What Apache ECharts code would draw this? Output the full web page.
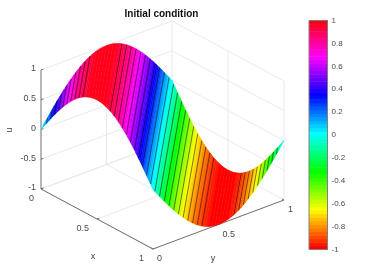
<!DOCTYPE html>
<html><head><meta charset="utf-8">
<style>html,body{margin:0;padding:0;background:#fff}#c{width:374px;height:280px;filter:blur(0.35px)}</style>
<script src="https://cdn.jsdelivr.net/npm/echarts@6/dist/echarts.min.js"></script>
</head><body><div id="c"></div>
<script>
// Surface height read along s = x + y, sampled every 0.025 from s = 0 to s = 2
const sStep = 0.025;
const heightAlongS = [
 0,.079,.156,.233,.309,.383,.454,.523,.588,.649,.707,.760,.809,.853,.891,.924,.951,.972,.988,.997,
 1,.997,.988,.972,.951,.924,.891,.853,.809,.760,.707,.649,.588,.523,.454,.383,.309,.233,.156,.079,
 0,-.079,-.156,-.233,-.309,-.383,-.454,-.523,-.588,-.649,-.707,-.760,-.809,-.853,-.891,-.924,-.951,-.972,-.988,-.997,
 -1,-.997,-.988,-.972,-.951,-.924,-.891,-.853,-.809,-.760,-.707,-.649,-.588,-.523,-.454,-.383,-.309,-.233,-.156,-.079,0];
// Dark lines crossing the surface, as values of s
const darkLinesS = [.05,.086,.122,.158,.194,.23,.266,.302,.338,.374,
 .618,.654,.69,.726,.762,.798,.834,.87,.906,.942,.978,1.014,1.05,1.086,1.122,1.158,1.194,1.23,1.266,1.302,1.338,1.374,
 1.618,1.654,1.69,1.726,1.762,1.798,1.834,1.87,1.906,1.942];
const xTicks = [0,0.5,1];
const yTicks = [0,0.5,1];
const zTicks = [-1,-0.5,0,0.5,1];
const colorCount = 64;
const titleText = 'Initial condition';

// Orthographic view of the unit box
const view = {ox:41, oy:189, xx:112, xy:60, yx:131, yy:-49, zy:-59.5};
const project = (x,y,z) => [view.ox+view.xx*x+view.yx*y, view.oy+view.xy*x+view.yy*y+view.zy*(z+1)];

function hsvColor(k){
  const h=k/colorCount*6, i=Math.floor(h), f=h-i, q=Math.round(255*(1-f)), t=Math.round(255*f);
  const c=[[255,t,0],[q,255,0],[0,255,t],[0,q,255],[t,0,255],[255,0,q]][i%6];
  return 'rgb('+c.join(',')+')';
}
const bandOf = u => Math.min(colorCount-1, Math.max(0, Math.floor((u+1)/2*colorCount)));
function heightAt(s){
  const f=s/sStep, i=Math.min(heightAlongS.length-2,Math.floor(f));
  return heightAlongS[i]+(heightAlongS[i+1]-heightAlongS[i])*(f-i);
}
// end points of the line x+y=s in the unit square
const sEnds = s => s<=1 ? [[s,0],[0,s]] : [[1,s-1],[s-1,1]];

// Strips of constant colour
const strips=[];
for(let i=0;i<heightAlongS.length-1;i++){
  const s0=i*sStep,s1=(i+1)*sStep,u0=heightAlongS[i],u1=heightAlongS[i+1];
  const cuts=[0,1];
  for(let k=0;k<=colorCount;k++){
    const lv=-1+2*k/colorCount;
    if((lv-u0)*(lv-u1)<0) cuts.push((lv-u0)/(u1-u0));
  }
  cuts.sort((a,b)=>a-b);
  for(let j=0;j<cuts.length-1;j++){
    const a=cuts[j],b=cuts[j+1];
    const ua=u0+(u1-u0)*a,ub=u0+(u1-u0)*b;
    strips.push([s0+(s1-s0)*a,s0+(s1-s0)*b,ua,ub,bandOf((ua+ub)/2)]);
  }
}
// Box lines: [x0,y0,z0,x1,y1,z1,kind]  kind 0 = light grid, 1 = axis
const seg=[];
zTicks.forEach(z=>{seg.push([0,0,z,0,1,z,0]);seg.push([0,1,z,1,1,z,0]);});
yTicks.forEach(y=>{if(y>0){seg.push([0,y,-1,0,y,1,0]);} if(y<1) seg.push([0,y,-1,1,y,-1,0]);});
xTicks.forEach(x=>{if(x>0){seg.push([x,1,-1,x,1,1,0]);} if(x<1) seg.push([x,0,-1,x,1,-1,0]);});
seg.push([0,0,-1,0,0,1,1],[0,0,-1,1,0,-1,1],[1,0,-1,1,1,-1,1]);
zTicks.forEach(z=>seg.push([0,0,z,0,0.018,z,1]));
xTicks.forEach(x=>seg.push([x,0,-1,x,0.018,-1,1]));
yTicks.forEach(y=>seg.push([1,y,-1,0.982,y,-1,1]));

// Text: [string, px, py, align, size, colour, bold, rotate]
const fmt=v=>String(v);
const labels=[];
zTicks.forEach(z=>{const p=project(0,0,z);labels.push([fmt(z),p[0]-5,p[1]-1,'right',9,'#4a4a4a',0,0]);});
xTicks.forEach(x=>{const p=project(x,0,-1);labels.push([fmt(x),p[0]-7-x*2,p[1]+9.5,'right',9,'#4a4a4a',0,0]);});
yTicks.forEach(y=>{const p=project(1,y,-1);labels.push([fmt(y),p[0]+4,p[1]+10,'left',9,'#4a4a4a',0,0]);});
labels.push(['x',93,257,'center',9,'#404040',0,0],['y',213,259,'center',9,'#404040',0,0],
            ['u',10,130,'center',9,'#404040',0,Math.PI/2],[titleText,161.5,14,'center',10,'#111',1,0]);

const chart=echarts.init(document.getElementById('c'),null,{renderer:'canvas'});
chart.setOption({
  animation:false,backgroundColor:'#fff',
  grid:[{left:0,top:0,width:374,height:280,show:false},
        {left:309,top:20.5,width:18.5,height:229,show:true,backgroundColor:'transparent',borderColor:'#808080',borderWidth:1,z:5}],
  xAxis:[{gridIndex:0,type:'value',min:0,max:374,show:false},
         {gridIndex:1,type:'value',min:0,max:1,show:false}],
  yAxis:[{gridIndex:0,type:'value',min:0,max:280,inverse:true,show:false},
         {gridIndex:1,type:'value',min:-1,max:1,interval:0.2,position:'right',
          axisLine:{show:true,onZero:false,lineStyle:{color:'#808080',width:1}},
          axisTick:{show:true,inside:true,length:2,lineStyle:{color:'#606060'}},
          splitLine:{show:false},
          axisLabel:{fontSize:8,color:'#4a4a4a',margin:4,fontFamily:'Liberation Sans',padding:[2,0,0,0],
            formatter:v=>String(Math.round(v*10)/10)}}],
  series:[
   {type:'custom',xAxisIndex:0,yAxisIndex:0,silent:true,z:1,data:seg,encode:{x:0,y:1},
    renderItem:(p,api)=>{
      const a=api.coord(project(api.value(0),api.value(1),api.value(2)));
      const b=api.coord(project(api.value(3),api.value(4),api.value(5)));
      const axis=api.value(6)===1;
      return {type:'line',shape:{x1:a[0],y1:a[1],x2:b[0],y2:b[1]},
        style:{stroke:axis?'#6e6e6e':'#e4e4e4',lineWidth:axis?1:0.8},z2:axis?2:1};
    }},
   {type:'custom',xAxisIndex:0,yAxisIndex:0,silent:true,z:2,data:strips,encode:{x:0,y:1},
    renderItem:(p,api)=>{
      const s0=api.value(0),s1=api.value(1),u0=api.value(2),u1=api.value(3);
      const e0=sEnds(s0),e1=sEnds(s1);
      const pts=[project(e0[0][0],e0[0][1],u0),project(e1[0][0],e1[0][1],u1),
                 project(e1[1][0],e1[1][1],u1),project(e0[1][0],e0[1][1],u0)].map(q=>api.coord(q));
      const col=hsvColor(api.value(4));
      return {type:'polygon',shape:{points:pts},style:{fill:col,stroke:col,lineWidth:0.5}};
    }},
   {type:'custom',xAxisIndex:0,yAxisIndex:0,silent:true,z:3,data:darkLinesS.map(s=>[s]),encode:{x:0},
    renderItem:(p,api)=>{
      const s=api.value(0),e=sEnds(s),u=heightAt(s);
      const a=api.coord(project(e[0][0],e[0][1],u)),b=api.coord(project(e[1][0],e[1][1],u));
      return {type:'line',shape:{x1:a[0],y1:a[1],x2:b[0],y2:b[1]},style:{stroke:'rgba(0,0,0,0.72)',lineWidth:0.7}};
    }},
   {type:'custom',xAxisIndex:1,yAxisIndex:1,silent:true,z:1,data:Array.from({length:colorCount},(_,k)=>[k]),encode:{x:0},
    renderItem:(p,api)=>{
      const k=api.value(0);
      const a=api.coord([0,-1+2*(k+1)/colorCount]),b=api.coord([1,-1+2*k/colorCount]);
      return {type:'rect',shape:{x:a[0],y:a[1],width:b[0]-a[0],height:b[1]-a[1]+0.5},style:{fill:hsvColor(k)}};
    }},
   {type:'custom',xAxisIndex:0,yAxisIndex:0,silent:true,z:6,data:labels.map((l,i)=>[i]),encode:{x:0},
    renderItem:(p,api)=>{
      const l=labels[api.value(0)],q=api.coord([l[1],l[2]]);
      return {type:'text',x:q[0],y:q[1],rotation:l[7],
        style:{text:l[0],textAlign:l[3],textVerticalAlign:'middle',fontSize:l[4],fill:l[5],
               fontWeight:l[6]?'bold':'normal',fontFamily:'Liberation Sans'}};
    }}
  ]
});
</script></body></html>
